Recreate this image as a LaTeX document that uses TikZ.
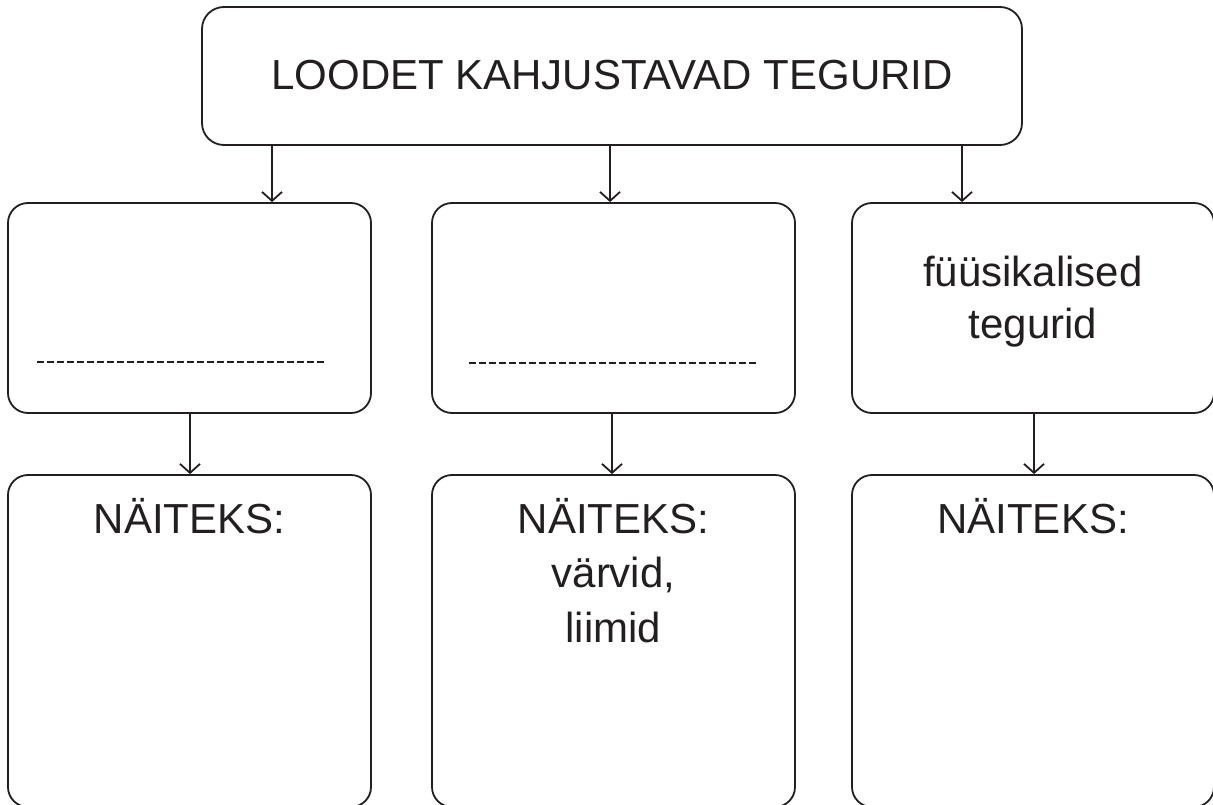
\documentclass[tikz,border=0pt]{standalone}
\usepackage{fontspec}
\setmainfont{Liberation Sans}
\usetikzlibrary{arrows.meta}
\definecolor{ink}{HTML}{231F20}
\tikzset{
  box/.style={draw=ink, line width=1.8pt, rounded corners=20pt, rectangle, inner sep=0pt},
  topbox/.style={box, rounded corners=22pt},
  arr/.style={draw=ink, line width=1.8pt, -{Straight Barb[length=9pt,width=20pt,line width=1.8pt]}},
  txt/.style={text=ink, font=\fontsize{42}{50}\selectfont, anchor=base, inner sep=0pt},
  dline/.style={draw=ink, line width=2.2pt, dash pattern=on 7pt off 3pt}
}
\begin{document}
\begin{tikzpicture}[x=1pt,y=-1pt]
\useasboundingbox (0,0) rectangle (1213,805);
% boxes
\node[topbox, minimum width=820pt, minimum height=138pt] (top) at (612,76) {};
\node[box, minimum width=363pt, minimum height=210pt] (m1) at (189.5,308) {};
\node[box, minimum width=363pt, minimum height=210pt] (m2) at (613.5,308) {};
\node[box, minimum width=362pt, minimum height=210pt] (m3) at (1033,308) {};
\node[box, minimum width=363pt, minimum height=332pt] (b1) at (189.5,641) {};
\node[box, minimum width=363pt, minimum height=332pt] (b2) at (613.5,641) {};
\node[box, minimum width=362pt, minimum height=332pt] (b3) at (1033,641) {};
% arrow x positions
\coordinate (a1) at (272,0);
\coordinate (a2) at (610,0);
\coordinate (a3) at (962,0);
\coordinate (c1) at (190,0);
\coordinate (c2) at (612,0);
\coordinate (c3) at (1034,0);
\draw[arr] (top.south -| a1) -- (m1.north -| a1);
\draw[arr] (top.south -| a2) -- (m2.north -| a2);
\draw[arr] (top.south -| a3) -- (m3.north -| a3);
\draw[arr] (m1.south -| c1) -- (b1.north -| c1);
\draw[arr] (m2.south -| c2) -- (b2.north -| c2);
\draw[arr] (m3.south -| c3) -- (b3.north -| c3);
% dashed answer lines
\draw[dline] (37,362) -- (327,362);
\draw[dline] (469,363) -- (757,363);
% texts
\node[txt] (t0) at (612,90) {LOODET KAHJUSTAVAD TEGURID};
\node[txt] (t3a) at (1033,287) {füüsikalised};
\node[txt] (t3b) at (1033,338) {tegurid};
\node[txt] (n1) at (189.5,533) {NÄITEKS:};
\node[txt] (n2) at (613.5,533) {NÄITEKS:};
\node[txt] (n2a) at (613.5,587) {värvid,};
\node[txt] (n2b) at (613.5,642) {liimid};
\node[txt] (n3) at (1033,533) {NÄITEKS:};
\end{tikzpicture}
\end{document}
